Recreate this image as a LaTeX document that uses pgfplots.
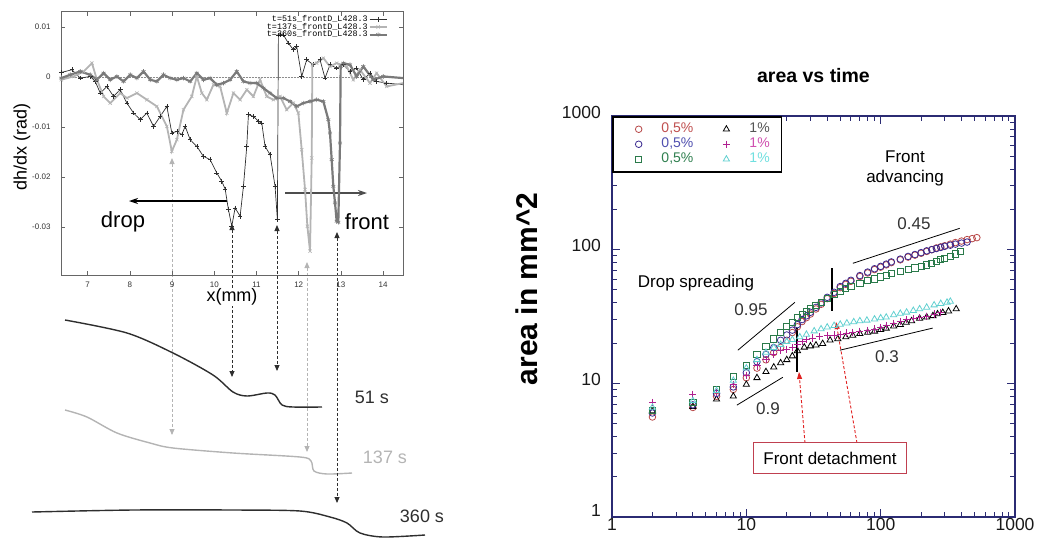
\documentclass[border=0pt]{standalone}
\usepackage{fontspec}
\setmainfont{Liberation Sans}
\newfontfamily\monofont{Liberation Mono}
\usepackage{pgfplots}
\pgfplotsset{compat=1.18}
\usetikzlibrary{arrows.meta}
\definecolor{cA}{HTML}{2E2E2E}
\definecolor{cB}{HTML}{B4B4B4}
\definecolor{cC}{HTML}{7A7A7A}
\definecolor{navy}{HTML}{2B2B73}
\definecolor{sR}{HTML}{B84848}
\definecolor{sB}{HTML}{3A2A90}
\definecolor{sG}{HTML}{2A7A4A}
\definecolor{sM}{HTML}{B02090}
\definecolor{sC}{HTML}{60D0D0}
\definecolor{tR}{HTML}{C05050}
\definecolor{tB}{HTML}{5050B0}
\definecolor{tG}{HTML}{308050}
\definecolor{tK}{HTML}{555555}
\definecolor{tM}{HTML}{D050B0}
\definecolor{tC}{HTML}{70E0E0}
\definecolor{boxred}{HTML}{C04050}
\definecolor{arrred}{HTML}{E02020}
\begin{document}
\begin{tikzpicture}
\useasboundingbox (0pt,0pt) rectangle (1037pt,539pt);
% ---------------- overlay in pixel coordinates ----------------
\begin{axis}[at={(0pt,0pt)}, anchor=south west, scale only axis,
  width=1037pt, height=539pt, xmin=0, xmax=1037, ymin=0, ymax=539,
  y dir=reverse, axis lines=none, clip=false]
% height profiles
\addplot[smooth, color=cA, line width=1.4pt] coordinates {(65,320) (127,333) (173,353) (213,375) (233,392) (247,396) (267,393) (275,395) (282,405) (293,407) (322,407)};
\addplot[smooth, color=cB, line width=1.4pt] coordinates {(65,410) (87,417) (117,433) (150,443) (173,448) (233,453) (300,457) (311,461) (314,471) (327,474) (352,473)};
\addplot[smooth, color=cA, line width=1.4pt] coordinates {(32,512) (133,510) (233,510) (300,511) (330,517) (347,523) (360,533) (383,537) (425,535)};
\node[text=cA, font=\fontsize{18}{20}\selectfont] at (372,397) {51 s};
\node[text=cB, font=\fontsize{18}{20}\selectfont] at (385,457) {137 s};
\node[text=cA, font=\fontsize{18}{20}\selectfont] at (422,516) {360 s};
% dashed double arrows
\draw[cB, line width=0.9pt, dash pattern=on 3pt off 2pt, {Triangle[length=6pt,width=5pt]}-{Triangle[length=6pt,width=5pt]}] (172,158) -- (172,435);
\draw[cA, line width=0.9pt, dash pattern=on 3pt off 2pt, {Triangle[length=6pt,width=5pt]}-{Triangle[length=6pt,width=5pt]}] (232,224) -- (232,377);
\draw[cA, line width=0.9pt, dash pattern=on 3pt off 2pt, {Triangle[length=6pt,width=5pt]}-{Triangle[length=6pt,width=5pt]}] (277,225) -- (277,371);
\draw[cB, line width=0.9pt, dash pattern=on 3pt off 2pt, {Triangle[length=6pt,width=5pt]}-{Triangle[length=6pt,width=5pt]}] (307,262) -- (307,452);
\draw[cA, line width=0.9pt, dash pattern=on 3pt off 2pt, {Triangle[length=6pt,width=5pt]}-{Triangle[length=6pt,width=5pt]}] (337,232) -- (337,503);
% drop / front arrows
\draw[black, line width=1.2pt, -{Stealth[length=9pt,width=6pt]}] (227,201) -- (129,201);
\draw[cA!85, line width=1.2pt, -{Stealth[length=9pt,width=6pt]}] (285,193) -- (367,193);
\node[font=\fontsize{22}{26}\selectfont] at (123,222) {drop};
\node[font=\fontsize{22}{26}\selectfont] at (367,222) {front};
% right-hand annotations
\node[font=\fontsize{17}{20}\selectfont, align=center] at (905,168) {Front\\advancing};
\node[font=\fontsize{17}{20}\selectfont] at (696,283) {Drop spreading};
\node[text=black!80, font=\fontsize{17}{20}\selectfont] at (751,310) {0.95};
\node[text=black!80, font=\fontsize{17}{20}\selectfont] at (914,224) {0.45};
\node[text=black!80, font=\fontsize{17}{20}\selectfont] at (887,357) {0.3};
\node[text=black!80, font=\fontsize{17}{20}\selectfont] at (768,409) {0.9};
\draw[arrred, line width=0.9pt, dash pattern=on 3pt off 2pt, -{Triangle[length=7pt,width=5pt]}] (805,443) -- (799,372);
\draw[arrred, line width=0.9pt, dash pattern=on 3pt off 2pt, -{Triangle[length=7pt,width=5pt]}] (857,443) -- (836,322);
\node[draw=boxred, line width=0.8pt, fill=white, minimum width=153pt, minimum height=31pt, font=\fontsize{17}{20}\selectfont] at (830,458) {Front detachment};
\end{axis}
% ---------------- left: dh/dx ----------------
\begin{axis}[at={(61pt,263.7pt)}, anchor=south west, scale only axis,
  width=342pt, height=263.6pt,
  xmin=6.37, xmax=14.47, ymin=-0.0397, ymax=0.0131,
  xtick={7,8,9,10,11,12,13,14},
  ytick={-0.03,-0.02,-0.01,0,0.01}, yticklabels={-0.03,-0.02,-0.01,0,0.01},
  scaled y ticks=false, scaled x ticks=false,
  /pgf/number format/assume math mode=true,
  axis line style={black!60, line width=0.6pt},
  tick style={black!60, line width=0.5pt}, major tick length=4pt,
  tick label style={font=\fontsize{8}{9}\selectfont, text=black!80},
  xticklabel style={yshift=-3pt},
  yticklabel style={xshift=-7pt},
  xlabel={x(mm)}, ylabel={dh/dx (rad)},
  xlabel style={font=\fontsize{18}{20}\selectfont, fill=white, inner sep=1pt, at={(axis description cs:0.5,-0.082)}, anchor=center},
  ylabel style={font=\fontsize{18}{20}\selectfont, at={(axis description cs:-0.114,0.487)}, anchor=center},
  legend style={at={(0.965,0.997)}, anchor=north east, draw=none, fill=none,
    font=\monofont\fontsize{8.4}{10}\selectfont, row sep=-1.5pt,
    nodes={inner sep=0.8pt}},
  legend cell align=right, legend plot pos=right]
\addplot[densely dotted, black!45, line width=0.5pt, forget plot] coordinates {(6.37,0) (14.47,0)};
\addplot[color=cA, line width=0.7pt, mark=+, mark size=2.3pt, mark options={line width=0.6pt}] coordinates {
(6.377,0.00093)(6.629,0.00147)(6.826,-0.0002)(7.063,0.00013)(7.181,-0.00087)(7.300,-0.0032)(7.457,-0.00187)(7.615,-0.00387)(7.773,-0.00253)(7.931,-0.0052)(8.088,-0.0072)(8.246,-0.00853)(8.404,-0.0072)(8.562,-0.00987)(8.719,-0.00787)(8.877,-0.00587)(8.995,-0.0112)(9.114,-0.01087)(9.232,-0.01153)(9.311,-0.00987)(9.429,-0.01253)(9.587,-0.01387)(9.744,-0.01587)(9.902,-0.01653)(10.060,-0.0192)(10.178,-0.02087)(10.257,-0.0224)(10.336,-0.02653)(10.415,-0.02987)(10.494,-0.0262)(10.612,-0.02787)(10.691,-0.02187)(10.770,-0.01387)(10.809,-0.00753)(10.927,-0.00787)(11.046,-0.00887)(11.125,-0.0092)(11.203,-0.01387)(11.322,-0.01553)(11.440,-0.02187)(11.495,-0.02853)(11.519,0.00847)(11.558,0.00847)(11.637,0.00847)(11.755,0.0068)(11.874,0.00547)(11.953,0.00613)(12.071,0.00013)(12.189,0.00347)(12.347,0.00247)(12.505,0.00347)(12.623,-0.0002)(12.741,0.00247)(12.899,0.0018)(13.057,0.00247)(13.215,0.00113)(13.372,0.0018)(13.530,-0.00053)(13.688,0.0008)(13.845,-0.00087)(14.082,-0.0012)(14.476,-0.00153)};
\addlegendentry{t=51s\_frontD\_L428.3}
\addplot[color=cB, line width=1.8pt, mark=x, mark size=2.3pt, mark options={line width=0.6pt}] coordinates {
(6.377,-0.00053)(6.669,0.00013)(6.905,0.00113)(7.103,0.0028)(7.221,-0.00053)(7.379,-0.00387)(7.536,-0.0052)(7.773,-0.0032)(7.931,-0.0042)(8.167,-0.0032)(8.404,-0.00453)(8.640,-0.00587)(8.877,-0.00987)(8.995,-0.01487)(9.114,-0.01253)(9.271,-0.00653)(9.468,-0.00387)(9.587,0.00013)(9.705,-0.0032)(9.823,-0.00453)(9.981,-0.00153)(10.139,-0.00187)(10.297,-0.0072)(10.454,-0.0032)(10.612,-0.00453)(10.770,-0.00253)(10.927,-0.00387)(11.085,-0.00053)(11.243,-0.00387)(11.401,-0.00453)(11.558,-0.00387)(11.716,-0.00653)(11.874,-0.0052)(11.992,-0.0072)(12.071,-0.01453)(12.150,-0.02253)(12.205,-0.02987)(12.268,-0.03487)(12.308,-0.0162)(12.323,0.00247)(12.426,0.0028)(12.584,0.0038)(12.741,0.00213)(12.899,0.0028)(13.136,0.00213)(13.293,-0.00053)(13.451,0.00147)(13.688,-0.0012)(13.845,0.0008)(14.082,-0.00187)(14.476,-0.0012)};
\addlegendentry{t=137s\_frontD\_L428.3}
\addplot[color=cC, line width=2.2pt, mark=asterisk, mark size=2.3pt, mark options={line width=0.6pt}] coordinates {
(6.377,-0.0002)(6.590,0.00047)(6.826,0.00113)(7.063,0.00047)(7.221,-0.00053)(7.379,0.0008)(7.536,-0.00053)(7.694,0.00013)(7.852,-0.00087)(8.009,0.00047)(8.167,-0.0002)(8.325,0.00113)(8.483,-0.00053)(8.640,-0.00087)(8.798,0.00047)(8.956,-0.0002)(9.114,-0.00053)(9.271,-0.0002)(9.429,-0.00087)(9.587,0.0008)(9.744,-0.00053)(9.902,-0.0002)(10.060,-0.00153)(10.218,-0.0012)(10.375,-0.00053)(10.533,0.00113)(10.691,-0.00087)(10.849,-0.0012)(11.006,-0.0012)(11.164,-0.0022)(11.322,-0.0032)(11.479,-0.0042)(11.637,-0.0042)(11.795,-0.00487)(11.953,-0.00587)(12.110,-0.0052)(12.268,-0.00487)(12.426,-0.00453)(12.584,-0.00487)(12.702,-0.00853)(12.741,-0.0112)(12.781,-0.01653)(12.820,-0.02187)(12.860,-0.0252)(12.899,-0.02887)(12.938,-0.02907)(12.978,-0.0132)(12.994,0.00213)(13.057,0.0028)(13.215,0.00247)(13.372,0.00013)(13.530,0.00213)(13.767,-0.00053)(14.003,0.00013)(14.476,-0.0002)};
\addlegendentry{t=360s\_frontD\_L428.3}
\end{axis}
% ---------------- right: area vs time ----------------
\begin{axis}[at={(612pt,22pt)}, anchor=south west, scale only axis,
  width=403pt, height=401pt,
  xmode=log, ymode=log, xmin=1, xmax=1000, ymin=1, ymax=1000,
  xtick={1,10,100,1000}, xticklabels={1,10,100,1000},
  ytick={1,10,100,1000}, yticklabels={\raisebox{6pt}{1},10,100,1000},
  minor xtick={2,3,4,5,6,7,8,9,20,30,40,50,60,70,80,90,200,300,400,500,600,700,800,900},
  minor ytick={2,3,4,5,6,7,8,9,20,30,40,50,60,70,80,90,200,300,400,500,600,700,800,900},
  axis line style={navy, line width=1.1pt},
  tick style={navy, line width=0.9pt}, major tick length=8pt, minor tick length=5pt,
  tick label style={font=\fontsize{17.5}{20}\selectfont, text=black!90},
  xticklabel style={inner sep=0pt, yshift=-1.5pt},
  yticklabel style={inner sep=0pt, xshift=-11pt, yshift=4pt},
  title={area vs time},
  title style={font=\bfseries\fontsize{19.5}{22}\selectfont, at={(axis description cs:0.5,1.085)}, anchor=center},
  ylabel={area in mm\textasciicircum 2},
  ylabel style={font=\bfseries\fontsize{30}{34}\selectfont, at={(axis description cs:-0.211,0.569)}, anchor=center},
  legend columns=2,
  legend image code/.code={\path (-6pt,0pt); \draw[mark repeat=2,mark phase=2,#1] plot coordinates {(0cm,0cm) (0.3cm,0cm) (0.6cm,0cm)};},
  legend style={at={(0,1)}, anchor=north west, draw=black, line width=1.5pt, fill=white,
    inner xsep=11pt, inner ysep=5pt, font=\fontsize{14}{15}\selectfont,
    nodes={inner sep=1pt, text height=10pt, text depth=3pt},
    /tikz/every odd column/.style={column sep=18.5pt},
    /tikz/every even column/.style={column sep=17pt}},
  legend cell align=left]
% slope guide lines and detachment markers
\addplot[black, line width=0.8pt, forget plot] coordinates {(8.65,17.7) (23.0,40.4)};
\addplot[black, line width=0.8pt, forget plot] coordinates {(8.51,6.87) (18.7,11.1)};
\addplot[black, line width=0.8pt, forget plot] coordinates {(62.1,79.1) (388,144.5)};
\addplot[black, line width=0.8pt, forget plot] coordinates {(49.7,17.7) (244,25.9)};
% data
\addplot[only marks, mark=o, mark size=3.3pt, color=sR, line width=0.8pt] coordinates {
(2,5.6)(4,6.6)(6,8.0)(8,9.0)(10,11)(12,13)(14,15)(16,17)(18,18.6)(20,21)(22,24)(24,26.5)(26,29)(28,31)(30,33)(33,36)(36,39)(40,43)(45,47)(50,52)(55,55)(60,58)(70,63)(80,67)(90,71)(100,74)(110,77)(120,80)(140,84)(160,88)(180,91)(200,94)(220,97)(240,100)(260,103)(280,105)(300,107)(330,110)(360,113)(400,116)(440,119)(480,121)(520,123)};
\addlegendentry{\textcolor{tR}{0,5\%}}
\addplot[only marks, mark=triangle, mark size=3.6pt, color=black, line width=0.8pt] coordinates {
(2,6.2)(4,6.7)(6,7.6)(8,8.0)(10,9.8)(12,11)(14,12.2)(16,13.2)(18,14.2)(20,15)(22,16)(24,17.5)(27,18.6)(30,19)(33,19.3)(37,19.8)(42,21)(48,21.5)(55,22.2)(62,22.8)(70,23.5)(80,24)(90,24.5)(100,25.2)(110,25.8)(125,26.8)(140,27.5)(155,28.5)(170,29.3)(195,30.6)(220,31.3)(245,32)(265,33)(290,33.8)(320,34.7)(365,36)};
\addlegendentry{\textcolor{tK}{1\%}}
\addplot[only marks, mark=o, mark size=3.3pt, color=sB, line width=0.8pt] coordinates {
(2,6.0)(4,6.9)(6,8.4)(8,9.4)(10,12)(12,14.5)(14,16.5)(16,18.5)(18,21)(20,23)(22,25)(24,27.5)(26,30)(28,32)(30,34)(33,37)(36,40)(40,44)(45,48)(50,53)(55,56)(60,59)(70,64)(80,68)(90,72)(100,75)(110,78)(120,81)(140,85)(160,89)(180,92)(200,95)(220,98)(240,100)(260,102)(280,104)(300,106)(330,108)(360,110)(400,112)(440,114)};
\addlegendentry{\textcolor{tB}{0,5\%}}
\addplot[only marks, mark=+, mark size=3.6pt, color=sM, line width=0.9pt] coordinates {
(2,7.2)(4,8.3)(6,8.5)(8,9.8)(10,11.5)(12,13.5)(14,15)(16,16.5)(18,17.5)(20,18)(22,18.5)(24,19.5)(26,20.5)(28,21.2)(31,21.8)(35,22.4)(40,22.8)(45,23)(50,23.3)(56,23.8)(62,24.1)(70,24.5)(80,25)(90,25.5)(100,26.3)(110,27.2)(125,28.2)(140,29)(156,30)(175,30.5)(195,31)(220,31.5)(250,33)(280,34)};
\addlegendentry{\textcolor{tM}{1\%}}
\addplot[only marks, mark=square, mark size=3.1pt, color=sG, line width=0.8pt] coordinates {
(2,6.3)(4,7.2)(6,9.0)(8,11.2)(10,13.6)(12,16.5)(14,19)(16,21.5)(18,24)(20,26.5)(22,28.5)(24,31)(26,33)(28,34.5)(30,36)(33,38.5)(36,40.5)(40,43)(45,46)(50,49)(55,51)(60,53)(70,56)(80,58.5)(90,60.5)(100,62.5)(110,64)(120,66)(140,68.5)(160,71)(180,73)(200,75)(220,77)(240,79)(260,82)(280,84)(300,86)(330,89)(360,93)(390,97)};
\addlegendentry{\textcolor{tG}{0,5\%}}
\addplot[only marks, mark=triangle, mark size=3.6pt, color=sC, line width=0.8pt] coordinates {
(2,6.6)(4,7.4)(6,8.8)(8,10.5)(10,13)(12,15)(14,17)(16,18.5)(18,19.5)(20,20.5)(22,21.2)(25,22.2)(28,23.2)(32,24.6)(36,25.5)(40,26.3)(45,27)(50,27.6)(56,28.2)(63,28.8)(70,29.3)(79,29.6)(90,30.2)(100,30.8)(110,31.2)(125,32.5)(140,33.3)(156,34)(175,35)(195,36)(220,37)(250,38.5)(280,39.5)(312,40.3)(330,41)};
\addlegendentry{\textcolor{tC}{1\%}}
\addplot[black, line width=2pt, forget plot] coordinates {(23.8,25.9) (23.8,12.1)};
\addplot[black, line width=2pt, forget plot] coordinates {(43.3,72.6) (43.3,34.7)};
\end{axis}
\end{tikzpicture}
\end{document}
